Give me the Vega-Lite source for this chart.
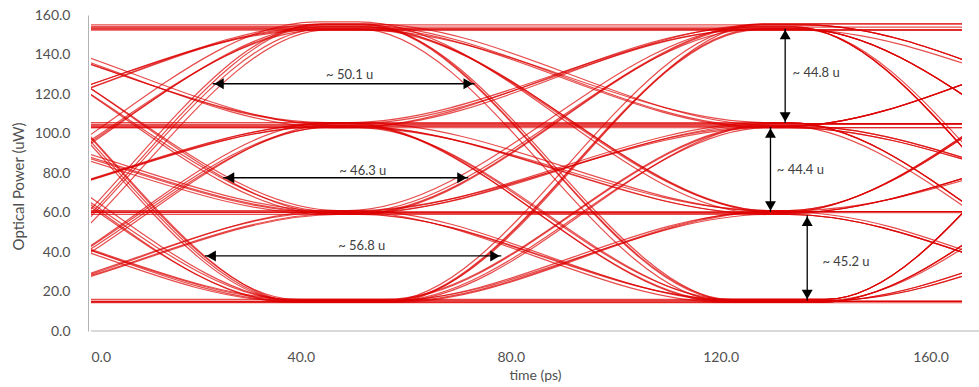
{
"$schema": "https://vega.github.io/schema/vega-lite/v6.json",
"width": 871, "height": 316,
"autosize": {"type": "none"},
"padding": {"left": 91, "top": 15, "right": 17, "bottom": 56},
"background": "white",
"config": {"view": {"stroke": null}, "font": "Lato", "axis": {"labelOverlap": false}},
"datasets": {
"tr": [
{"k":0,"t":-44,"p":15},{"k":0,"t":-26,"p":15},{"k":0,"t":39,"p":15},{"k":0,"t":57,"p":15},{"k":0,"t":122,"p":15},{"k":0,"t":140,"p":15},{"k":0,"t":205,"p":15},{"k":0,"t":223,"p":15},
{"k":1,"t":-36,"p":59},{"k":1,"t":-32,"p":59},{"k":1,"t":40,"p":15.5},{"k":1,"t":58,"p":15.5},{"k":1,"t":123,"p":15.5},{"k":1,"t":141,"p":15.5},{"k":1,"t":213,"p":59},{"k":1,"t":217,"p":59},
{"k":2,"t":-38,"p":105.5},{"k":2,"t":-34,"p":105.5},{"k":2,"t":38,"p":14.5},{"k":2,"t":56,"p":14.5},{"k":2,"t":121,"p":14.5},{"k":2,"t":139,"p":14.5},{"k":2,"t":211,"p":105.5},{"k":2,"t":215,"p":105.5},
{"k":3,"t":-39,"p":155.5},{"k":3,"t":-31,"p":155.5},{"k":3,"t":39,"p":16},{"k":3,"t":57,"p":16},{"k":3,"t":122,"p":16},{"k":3,"t":140,"p":16},{"k":3,"t":210,"p":155.5},{"k":3,"t":218,"p":155.5},
{"k":4,"t":-43,"p":15},{"k":4,"t":-25,"p":15},{"k":4,"t":40,"p":15},{"k":4,"t":58,"p":15},{"k":4,"t":130,"p":61},{"k":4,"t":134,"p":61},{"k":4,"t":213,"p":103},{"k":4,"t":217,"p":103},
{"k":5,"t":-38,"p":60},{"k":5,"t":-34,"p":60},{"k":5,"t":38,"p":15},{"k":5,"t":56,"p":15},{"k":5,"t":128,"p":60},{"k":5,"t":132,"p":60},{"k":5,"t":209,"p":153},{"k":5,"t":217,"p":153},
{"k":6,"t":-37,"p":103.5},{"k":6,"t":-33,"p":103.5},{"k":6,"t":39,"p":15.5},{"k":6,"t":57,"p":15.5},{"k":6,"t":129,"p":59},{"k":6,"t":133,"p":59},{"k":6,"t":205,"p":15.5},{"k":6,"t":223,"p":15.5},
{"k":7,"t":-38,"p":152.5},{"k":7,"t":-30,"p":152.5},{"k":7,"t":40,"p":14.5},{"k":7,"t":58,"p":14.5},{"k":7,"t":130,"p":60.5},{"k":7,"t":134,"p":60.5},{"k":7,"t":213,"p":60.5},{"k":7,"t":217,"p":60.5},
{"k":8,"t":-45,"p":16},{"k":8,"t":-27,"p":16},{"k":8,"t":38,"p":16},{"k":8,"t":56,"p":16},{"k":8,"t":128,"p":104},{"k":8,"t":132,"p":104},{"k":8,"t":204,"p":16},{"k":8,"t":222,"p":16},
{"k":9,"t":-37,"p":61},{"k":9,"t":-33,"p":61},{"k":9,"t":39,"p":15},{"k":9,"t":57,"p":15},{"k":9,"t":129,"p":103},{"k":9,"t":133,"p":103},{"k":9,"t":212,"p":61},{"k":9,"t":216,"p":61},
{"k":10,"t":-36,"p":105},{"k":10,"t":-32,"p":105},{"k":10,"t":40,"p":15},{"k":10,"t":58,"p":15},{"k":10,"t":130,"p":105},{"k":10,"t":134,"p":105},{"k":10,"t":213,"p":105},{"k":10,"t":217,"p":105},
{"k":11,"t":-40,"p":155},{"k":11,"t":-32,"p":155},{"k":11,"t":38,"p":15.5},{"k":11,"t":56,"p":15.5},{"k":11,"t":128,"p":103.5},{"k":11,"t":132,"p":103.5},{"k":11,"t":209,"p":155},{"k":11,"t":217,"p":155},
{"k":12,"t":-44,"p":14.5},{"k":12,"t":-26,"p":14.5},{"k":12,"t":39,"p":14.5},{"k":12,"t":57,"p":14.5},{"k":12,"t":127,"p":152.5},{"k":12,"t":135,"p":152.5},{"k":12,"t":212,"p":105.5},{"k":12,"t":216,"p":105.5},
{"k":13,"t":-36,"p":59.5},{"k":13,"t":-32,"p":59.5},{"k":13,"t":40,"p":16},{"k":13,"t":58,"p":16},{"k":13,"t":128,"p":155.5},{"k":13,"t":136,"p":155.5},{"k":13,"t":211,"p":155.5},{"k":13,"t":219,"p":155.5},
{"k":14,"t":-38,"p":103},{"k":14,"t":-34,"p":103},{"k":14,"t":38,"p":15},{"k":14,"t":56,"p":15},{"k":14,"t":126,"p":154},{"k":14,"t":134,"p":154},{"k":14,"t":204,"p":15},{"k":14,"t":222,"p":15},
{"k":15,"t":-39,"p":153},{"k":15,"t":-31,"p":153},{"k":15,"t":39,"p":15},{"k":15,"t":57,"p":15},{"k":15,"t":127,"p":153},{"k":15,"t":135,"p":153},{"k":15,"t":212,"p":60},{"k":15,"t":216,"p":60},
{"k":16,"t":-43,"p":15.5},{"k":16,"t":-25,"p":15.5},{"k":16,"t":47,"p":59},{"k":16,"t":51,"p":59},{"k":16,"t":123,"p":15.5},{"k":16,"t":141,"p":15.5},{"k":16,"t":213,"p":59},{"k":16,"t":217,"p":59},
{"k":17,"t":-38,"p":60.5},{"k":17,"t":-34,"p":60.5},{"k":17,"t":45,"p":60.5},{"k":17,"t":49,"p":60.5},{"k":17,"t":121,"p":14.5},{"k":17,"t":139,"p":14.5},{"k":17,"t":211,"p":105.5},{"k":17,"t":215,"p":105.5},
{"k":18,"t":-37,"p":104},{"k":18,"t":-33,"p":104},{"k":18,"t":46,"p":59.5},{"k":18,"t":50,"p":59.5},{"k":18,"t":122,"p":16},{"k":18,"t":140,"p":16},{"k":18,"t":210,"p":155.5},{"k":18,"t":218,"p":155.5},
{"k":19,"t":-38,"p":154},{"k":19,"t":-30,"p":154},{"k":19,"t":47,"p":61},{"k":19,"t":51,"p":61},{"k":19,"t":123,"p":15},{"k":19,"t":141,"p":15},{"k":19,"t":206,"p":15},{"k":19,"t":224,"p":15},
{"k":20,"t":-45,"p":15},{"k":20,"t":-27,"p":15},{"k":20,"t":45,"p":60},{"k":20,"t":49,"p":60},{"k":20,"t":128,"p":60},{"k":20,"t":132,"p":60},{"k":20,"t":209,"p":153},{"k":20,"t":217,"p":153},
{"k":21,"t":-37,"p":59},{"k":21,"t":-33,"p":59},{"k":21,"t":46,"p":59},{"k":21,"t":50,"p":59},{"k":21,"t":129,"p":59},{"k":21,"t":133,"p":59},{"k":21,"t":205,"p":15.5},{"k":21,"t":223,"p":15.5},
{"k":22,"t":-36,"p":105.5},{"k":22,"t":-32,"p":105.5},{"k":22,"t":47,"p":60.5},{"k":22,"t":51,"p":60.5},{"k":22,"t":130,"p":60.5},{"k":22,"t":134,"p":60.5},{"k":22,"t":213,"p":60.5},{"k":22,"t":217,"p":60.5},
{"k":23,"t":-40,"p":155.5},{"k":23,"t":-32,"p":155.5},{"k":23,"t":45,"p":59.5},{"k":23,"t":49,"p":59.5},{"k":23,"t":128,"p":59.5},{"k":23,"t":132,"p":59.5},{"k":23,"t":211,"p":104},{"k":23,"t":215,"p":104},
{"k":24,"t":-44,"p":15},{"k":24,"t":-26,"p":15},{"k":24,"t":46,"p":61},{"k":24,"t":50,"p":61},{"k":24,"t":129,"p":103},{"k":24,"t":133,"p":103},{"k":24,"t":212,"p":61},{"k":24,"t":216,"p":61},
{"k":25,"t":-36,"p":60},{"k":25,"t":-32,"p":60},{"k":25,"t":47,"p":60},{"k":25,"t":51,"p":60},{"k":25,"t":130,"p":105},{"k":25,"t":134,"p":105},{"k":25,"t":213,"p":105},{"k":25,"t":217,"p":105},
{"k":26,"t":-38,"p":103.5},{"k":26,"t":-34,"p":103.5},{"k":26,"t":45,"p":59},{"k":26,"t":49,"p":59},{"k":26,"t":128,"p":103.5},{"k":26,"t":132,"p":103.5},{"k":26,"t":209,"p":155},{"k":26,"t":217,"p":155},
{"k":27,"t":-39,"p":152.5},{"k":27,"t":-31,"p":152.5},{"k":27,"t":46,"p":60.5},{"k":27,"t":50,"p":60.5},{"k":27,"t":129,"p":105.5},{"k":27,"t":133,"p":105.5},{"k":27,"t":205,"p":14.5},{"k":27,"t":223,"p":14.5},
{"k":28,"t":-43,"p":16},{"k":28,"t":-25,"p":16},{"k":28,"t":47,"p":59.5},{"k":28,"t":51,"p":59.5},{"k":28,"t":128,"p":155.5},{"k":28,"t":136,"p":155.5},{"k":28,"t":211,"p":155.5},{"k":28,"t":219,"p":155.5},
{"k":29,"t":-38,"p":61},{"k":29,"t":-34,"p":61},{"k":29,"t":45,"p":61},{"k":29,"t":49,"p":61},{"k":29,"t":126,"p":154},{"k":29,"t":134,"p":154},{"k":29,"t":204,"p":15},{"k":29,"t":222,"p":15},
{"k":30,"t":-37,"p":105},{"k":30,"t":-33,"p":105},{"k":30,"t":46,"p":60},{"k":30,"t":50,"p":60},{"k":30,"t":127,"p":153},{"k":30,"t":135,"p":153},{"k":30,"t":212,"p":60},{"k":30,"t":216,"p":60},
{"k":31,"t":-38,"p":155},{"k":31,"t":-30,"p":155},{"k":31,"t":47,"p":59},{"k":31,"t":51,"p":59},{"k":31,"t":128,"p":155},{"k":31,"t":136,"p":155},{"k":31,"t":213,"p":103.5},{"k":31,"t":217,"p":103.5},
{"k":32,"t":-45,"p":14.5},{"k":32,"t":-27,"p":14.5},{"k":32,"t":45,"p":105.5},{"k":32,"t":49,"p":105.5},{"k":32,"t":121,"p":14.5},{"k":32,"t":139,"p":14.5},{"k":32,"t":211,"p":105.5},{"k":32,"t":215,"p":105.5},
{"k":33,"t":-37,"p":59.5},{"k":33,"t":-33,"p":59.5},{"k":33,"t":46,"p":104},{"k":33,"t":50,"p":104},{"k":33,"t":122,"p":16},{"k":33,"t":140,"p":16},{"k":33,"t":210,"p":155.5},{"k":33,"t":218,"p":155.5},
{"k":34,"t":-36,"p":103},{"k":34,"t":-32,"p":103},{"k":34,"t":47,"p":103},{"k":34,"t":51,"p":103},{"k":34,"t":123,"p":15},{"k":34,"t":141,"p":15},{"k":34,"t":206,"p":15},{"k":34,"t":224,"p":15},
{"k":35,"t":-40,"p":153},{"k":35,"t":-32,"p":153},{"k":35,"t":45,"p":105},{"k":35,"t":49,"p":105},{"k":35,"t":121,"p":15},{"k":35,"t":139,"p":15},{"k":35,"t":211,"p":60},{"k":35,"t":215,"p":60},
{"k":36,"t":-44,"p":15.5},{"k":36,"t":-26,"p":15.5},{"k":36,"t":46,"p":103.5},{"k":36,"t":50,"p":103.5},{"k":36,"t":129,"p":59},{"k":36,"t":133,"p":59},{"k":36,"t":205,"p":15.5},{"k":36,"t":223,"p":15.5},
{"k":37,"t":-36,"p":60.5},{"k":37,"t":-32,"p":60.5},{"k":37,"t":47,"p":105.5},{"k":37,"t":51,"p":105.5},{"k":37,"t":130,"p":60.5},{"k":37,"t":134,"p":60.5},{"k":37,"t":213,"p":60.5},{"k":37,"t":217,"p":60.5},
{"k":38,"t":-38,"p":104},{"k":38,"t":-34,"p":104},{"k":38,"t":45,"p":104},{"k":38,"t":49,"p":104},{"k":38,"t":128,"p":59.5},{"k":38,"t":132,"p":59.5},{"k":38,"t":211,"p":104},{"k":38,"t":215,"p":104},
{"k":39,"t":-39,"p":154},{"k":39,"t":-31,"p":154},{"k":39,"t":46,"p":103},{"k":39,"t":50,"p":103},{"k":39,"t":129,"p":61},{"k":39,"t":133,"p":61},{"k":39,"t":210,"p":154},{"k":39,"t":218,"p":154},
{"k":40,"t":-43,"p":15},{"k":40,"t":-25,"p":15},{"k":40,"t":47,"p":105},{"k":40,"t":51,"p":105},{"k":40,"t":130,"p":105},{"k":40,"t":134,"p":105},{"k":40,"t":213,"p":105},{"k":40,"t":217,"p":105},
{"k":41,"t":-38,"p":59},{"k":41,"t":-34,"p":59},{"k":41,"t":45,"p":103.5},{"k":41,"t":49,"p":103.5},{"k":41,"t":128,"p":103.5},{"k":41,"t":132,"p":103.5},{"k":41,"t":209,"p":155},{"k":41,"t":217,"p":155},
{"k":42,"t":-37,"p":105.5},{"k":42,"t":-33,"p":105.5},{"k":42,"t":46,"p":105.5},{"k":42,"t":50,"p":105.5},{"k":42,"t":129,"p":105.5},{"k":42,"t":133,"p":105.5},{"k":42,"t":205,"p":14.5},{"k":42,"t":223,"p":14.5},
{"k":43,"t":-38,"p":155.5},{"k":43,"t":-30,"p":155.5},{"k":43,"t":47,"p":104},{"k":43,"t":51,"p":104},{"k":43,"t":130,"p":104},{"k":43,"t":134,"p":104},{"k":43,"t":213,"p":59.5},{"k":43,"t":217,"p":59.5},
{"k":44,"t":-45,"p":15},{"k":44,"t":-27,"p":15},{"k":44,"t":45,"p":103},{"k":44,"t":49,"p":103},{"k":44,"t":126,"p":154},{"k":44,"t":134,"p":154},{"k":44,"t":204,"p":15},{"k":44,"t":222,"p":15},
{"k":45,"t":-37,"p":60},{"k":45,"t":-33,"p":60},{"k":45,"t":46,"p":105},{"k":45,"t":50,"p":105},{"k":45,"t":127,"p":153},{"k":45,"t":135,"p":153},{"k":45,"t":212,"p":60},{"k":45,"t":216,"p":60},
{"k":46,"t":-36,"p":103.5},{"k":46,"t":-32,"p":103.5},{"k":46,"t":47,"p":103.5},{"k":46,"t":51,"p":103.5},{"k":46,"t":128,"p":155},{"k":46,"t":136,"p":155},{"k":46,"t":213,"p":103.5},{"k":46,"t":217,"p":103.5},
{"k":47,"t":-40,"p":152.5},{"k":47,"t":-32,"p":152.5},{"k":47,"t":45,"p":105.5},{"k":47,"t":49,"p":105.5},{"k":47,"t":126,"p":152.5},{"k":47,"t":134,"p":152.5},{"k":47,"t":209,"p":152.5},{"k":47,"t":217,"p":152.5},
{"k":48,"t":-44,"p":16},{"k":48,"t":-26,"p":16},{"k":48,"t":44,"p":155.5},{"k":48,"t":52,"p":155.5},{"k":48,"t":122,"p":16},{"k":48,"t":140,"p":16},{"k":48,"t":210,"p":155.5},{"k":48,"t":218,"p":155.5},
{"k":49,"t":-36,"p":61},{"k":49,"t":-32,"p":61},{"k":49,"t":45,"p":154},{"k":49,"t":53,"p":154},{"k":49,"t":123,"p":15},{"k":49,"t":141,"p":15},{"k":49,"t":206,"p":15},{"k":49,"t":224,"p":15},
{"k":50,"t":-38,"p":105},{"k":50,"t":-34,"p":105},{"k":50,"t":43,"p":153},{"k":50,"t":51,"p":153},{"k":50,"t":121,"p":15},{"k":50,"t":139,"p":15},{"k":50,"t":211,"p":60},{"k":50,"t":215,"p":60},
{"k":51,"t":-39,"p":155},{"k":51,"t":-31,"p":155},{"k":51,"t":44,"p":155},{"k":51,"t":52,"p":155},{"k":51,"t":122,"p":15.5},{"k":51,"t":140,"p":15.5},{"k":51,"t":212,"p":103.5},{"k":51,"t":216,"p":103.5},
{"k":52,"t":-43,"p":14.5},{"k":52,"t":-25,"p":14.5},{"k":52,"t":45,"p":152.5},{"k":52,"t":53,"p":152.5},{"k":52,"t":130,"p":60.5},{"k":52,"t":134,"p":60.5},{"k":52,"t":213,"p":60.5},{"k":52,"t":217,"p":60.5},
{"k":53,"t":-38,"p":59.5},{"k":53,"t":-34,"p":59.5},{"k":53,"t":43,"p":156.5},{"k":53,"t":51,"p":156.5},{"k":53,"t":128,"p":59.5},{"k":53,"t":132,"p":59.5},{"k":53,"t":211,"p":104},{"k":53,"t":215,"p":104},
{"k":54,"t":-37,"p":103},{"k":54,"t":-33,"p":103},{"k":54,"t":44,"p":154},{"k":54,"t":52,"p":154},{"k":54,"t":129,"p":61},{"k":54,"t":133,"p":61},{"k":54,"t":210,"p":154},{"k":54,"t":218,"p":154},
{"k":55,"t":-38,"p":153},{"k":55,"t":-30,"p":153},{"k":55,"t":45,"p":153},{"k":55,"t":53,"p":153},{"k":55,"t":130,"p":60},{"k":55,"t":134,"p":60},{"k":55,"t":206,"p":15},{"k":55,"t":224,"p":15},
{"k":56,"t":-45,"p":15.5},{"k":56,"t":-27,"p":15.5},{"k":56,"t":43,"p":155},{"k":56,"t":51,"p":155},{"k":56,"t":128,"p":103.5},{"k":56,"t":132,"p":103.5},{"k":56,"t":209,"p":155},{"k":56,"t":217,"p":155},
{"k":57,"t":-37,"p":60.5},{"k":57,"t":-33,"p":60.5},{"k":57,"t":44,"p":152.5},{"k":57,"t":52,"p":152.5},{"k":57,"t":129,"p":105.5},{"k":57,"t":133,"p":105.5},{"k":57,"t":205,"p":14.5},{"k":57,"t":223,"p":14.5},
{"k":58,"t":-36,"p":104},{"k":58,"t":-32,"p":104},{"k":58,"t":45,"p":155.5},{"k":58,"t":53,"p":155.5},{"k":58,"t":130,"p":104},{"k":58,"t":134,"p":104},{"k":58,"t":213,"p":59.5},{"k":58,"t":217,"p":59.5},
{"k":59,"t":-40,"p":154},{"k":59,"t":-32,"p":154},{"k":59,"t":43,"p":154},{"k":59,"t":51,"p":154},{"k":59,"t":128,"p":103},{"k":59,"t":132,"p":103},{"k":59,"t":211,"p":103},{"k":59,"t":215,"p":103},
{"k":60,"t":-44,"p":15},{"k":60,"t":-26,"p":15},{"k":60,"t":44,"p":153},{"k":60,"t":52,"p":153},{"k":60,"t":127,"p":153},{"k":60,"t":135,"p":153},{"k":60,"t":212,"p":60},{"k":60,"t":216,"p":60},
{"k":61,"t":-36,"p":59},{"k":61,"t":-32,"p":59},{"k":61,"t":45,"p":155},{"k":61,"t":53,"p":155},{"k":61,"t":128,"p":155},{"k":61,"t":136,"p":155},{"k":61,"t":213,"p":103.5},{"k":61,"t":217,"p":103.5},
{"k":62,"t":-38,"p":105.5},{"k":62,"t":-34,"p":105.5},{"k":62,"t":43,"p":152.5},{"k":62,"t":51,"p":152.5},{"k":62,"t":126,"p":152.5},{"k":62,"t":134,"p":152.5},{"k":62,"t":209,"p":152.5},{"k":62,"t":217,"p":152.5},
{"k":63,"t":-39,"p":153},{"k":63,"t":-31,"p":153},{"k":63,"t":44,"p":153},{"k":63,"t":52,"p":153},{"k":63,"t":127,"p":153},{"k":63,"t":135,"p":153},{"k":63,"t":205,"p":15},{"k":63,"t":223,"p":15},
{"k":64,"t":-50,"p":153.9},{"k":64,"t":230,"p":153.9},
{"k":65,"t":-50,"p":152.3},{"k":65,"t":230,"p":152.3},
{"k":66,"t":-50,"p":104.6},{"k":66,"t":230,"p":104.6},
{"k":67,"t":-50,"p":102.9},{"k":67,"t":230,"p":102.9},
{"k":68,"t":-50,"p":59.9},{"k":68,"t":230,"p":59.9},
{"k":69,"t":-50,"p":14.3},{"k":69,"t":230,"p":14.3}
],
"ar": [
{"t":23.2,"t2":73.1,"p":125.2,"p2":125.2},
{"t":25.2,"t2":71.9,"p":77.6,"p2":77.6},
{"t":21.7,"t2":78.2,"p":38.0,"p2":38.0},
{"t":132.3,"t2":132.3,"p":153.1,"p2":105.3},
{"t":129.5,"t2":129.5,"p":103.3,"p2":60.3},
{"t":136.5,"t2":136.5,"p":58.6,"p2":15.5}
],
"hd": [
{"t":24.4,"p":125.2,"s":"triangle-left"},
{"t":71.9,"p":125.2,"s":"triangle-right"},
{"t":26.4,"p":77.6,"s":"triangle-left"},
{"t":70.7,"p":77.6,"s":"triangle-right"},
{"t":22.9,"p":38.0,"s":"triangle-left"},
{"t":77.0,"p":38.0,"s":"triangle-right"},
{"t":132.3,"p":150.1,"s":"triangle-up"},
{"t":132.3,"p":108.3,"s":"triangle-down"},
{"t":129.5,"p":100.3,"s":"triangle-up"},
{"t":129.5,"p":63.3,"s":"triangle-down"},
{"t":136.5,"p":55.6,"s":"triangle-up"},
{"t":136.5,"p":18.5,"s":"triangle-down"}
]
},
"encoding": {
"x": {"field": "t", "type": "quantitative", "title": "time (ps)", "scale": {"domain": [0, 166], "nice": false, "zero": false},
 "axis": {"values": [0, 40, 80, 120, 160], "format": ".1f", "grid": false, "ticks": false, "tickSize": 0, "domain": false, "labelOverlap": false, "labelPadding": 19, "labelFontSize": 14, "labelColor": "#505050", "labelFont": "Lato", "titleFont": "Lato", "titleFontSize": 14, "titleFontWeight": "normal", "titleColor": "#505050", "titlePadding": 4, "titleX": 444}},
"y": {"field": "p", "type": "quantitative", "title": "Optical Power (uW)", "scale": {"domain": [0, 160], "nice": false, "zero": false},
 "axis": {"values": [0, 20, 40, 60, 80, 100, 120, 140, 160], "format": ".1f", "grid": false, "ticks": false, "tickSize": 0, "domainColor": "#b3b3b3", "offset": 3, "labelOverlap": false, "labelPadding": 18, "labelFontSize": 14, "labelColor": "#505050", "labelFont": "Lato", "titleFont": "Lato", "titleFontSize": 15, "titleFontWeight": "normal", "titleColor": "#505050", "titlePadding": 8, "titleY": 171}}
},
"layer": [
{
"data": {"name": "tr"},
"mark": {"type": "line", "interpolate": "monotone", "clip": true, "color": "#dd0000", "strokeWidth": 1.2, "opacity": 0.7},
"encoding": {"detail": {"field": "k", "type": "nominal"}}
},
{
"data": {"values": [{"t": 0, "t2": 169.3, "p": 0}]},
"mark": {"type": "rule", "color": "#b3b3b3", "strokeWidth": 1, "clip": false},
"encoding": {"x2": {"field": "t2"}}
},
{
"data": {"name": "ar"},
"mark": {"type": "rule", "color": "#000000", "strokeWidth": 1.3},
"encoding": {"x2": {"field": "t2"}, "y2": {"field": "p2"}}
},
{
"data": {"name": "hd"},
"mark": {"type": "point", "filled": true, "color": "#000000", "opacity": 1, "size": 120},
"encoding": {"shape": {"field": "s", "type": "nominal", "scale": null}}
},
{
"data": {"values": [
{"t": 49.3, "p": 129.5, "lab": "~ 50.1 u"},
{"t": 51.8, "p": 81.0, "lab": "~ 46.3 u"},
{"t": 51.6, "p": 43.0, "lab": "~ 56.8 u"}
]},
"mark": {"type": "text", "align": "center", "baseline": "middle", "fontSize": 13, "font": "Lato", "color": "#404040"},
"encoding": {"text": {"field": "lab"}}
},
{
"data": {"values": [
{"t": 133.7, "p": 130.5, "lab": "~ 44.8 u"},
{"t": 130.7, "p": 81.4, "lab": "~ 44.4 u"},
{"t": 139.4, "p": 34.9, "lab": "~ 45.2 u"}
]},
"mark": {"type": "text", "align": "left", "baseline": "middle", "fontSize": 13, "font": "Lato", "color": "#404040"},
"encoding": {"text": {"field": "lab"}}
}
]
}
